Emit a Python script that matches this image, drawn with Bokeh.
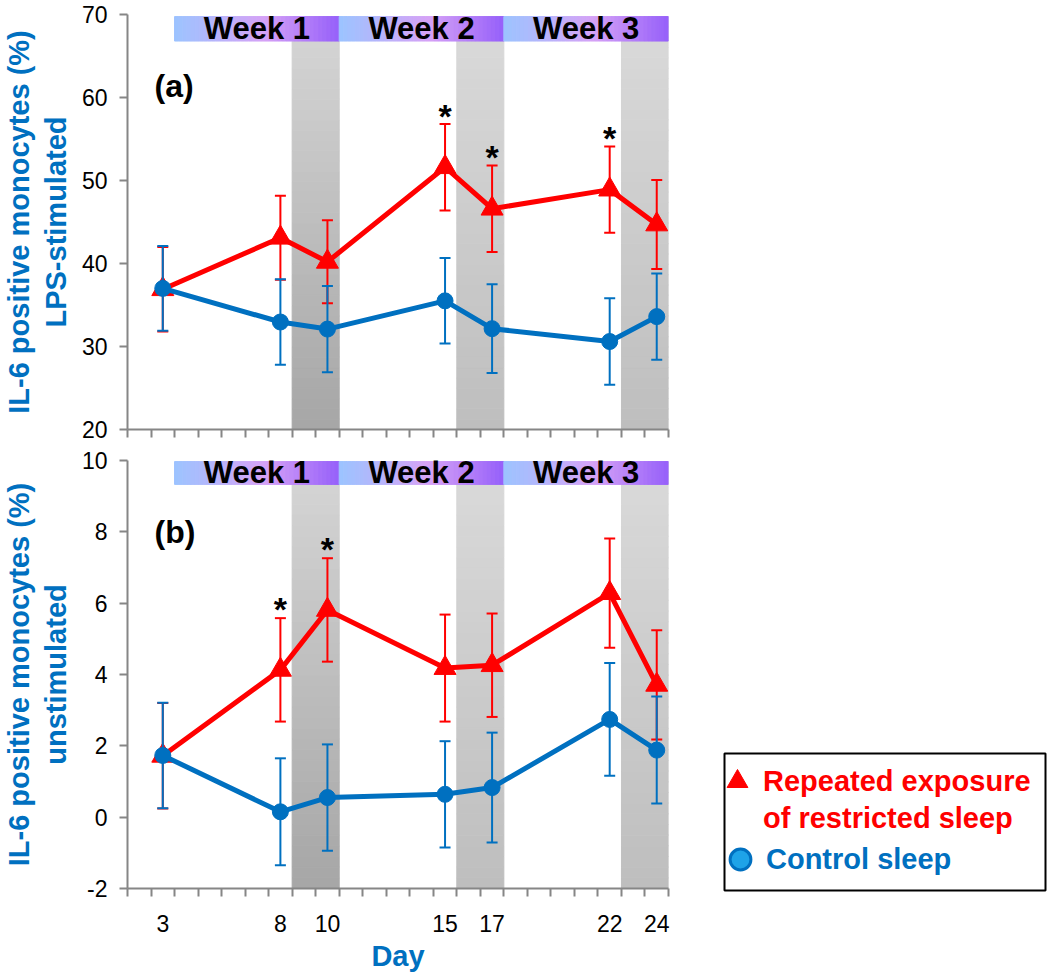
from bokeh.plotting import figure
from bokeh.models import Range1d, FixedTicker, Label, Legend, LegendItem, Spacer
from bokeh.layouts import column, row
from bokeh.embed import file_html
from bokeh.resources import INLINE
from bokeh.core.properties import value

# ---------------- data ----------------
days = [3, 8, 10, 15, 17, 22, 24]
day_labels = ["3", "8", "10", "15", "17", "22", "24"]

restricted_lps = [36.9, 43.1, 40.2, 51.6, 46.6, 48.9, 44.7]
restricted_lps_se = [5.1, 5.05, 5.0, 5.2, 5.2, 5.2, 5.35]
control_lps = [37.0, 32.95, 32.1, 35.5, 32.15, 30.6, 33.6]
control_lps_se = [5.1, 5.15, 5.2, 5.15, 5.35, 5.2, 5.2]

restricted_unstim = [1.72, 4.13, 5.81, 4.18, 4.26, 6.28, 3.71]
restricted_unstim_se = [1.48, 1.45, 1.45, 1.5, 1.45, 1.53, 1.53]
control_unstim = [1.73, 0.15, 0.55, 0.64, 0.83, 2.74, 1.88]
control_unstim_se = [1.48, 1.5, 1.49, 1.49, 1.54, 1.58, 1.5]

sig_days_lps = [15, 17, 22]
sig_days_unstim = [8, 10]

week_labels = ["Week 1", "Week 2", "Week 3"]
week_start = [3.5, 10.5, 17.5]
week_end = [10.5, 17.5, 24.5]
recovery_start = [8.5, 15.5, 22.5]
recovery_end = [10.5, 17.5, 24.5]

lps_ticks = [20, 30, 40, 50, 60, 70]
lps_tick_labels = ["20", "30", "40", "50", "60", "70"]
unstim_ticks = [-2, 0, 2, 4, 6, 8, 10]
unstim_tick_labels = ["-2", "0", "2", "4", "6", "8", "10"]

legend_labels = ["Repeated exposure", "of restricted sleep", "Control sleep"]

# ---------------- style ----------------
FONT = "Liberation Sans"
RED = "#ff0000"
BLUE = "#0070c0"
AXIS_GRAY = "#868686"
BAR_STOPS = [(0.0, (156, 196, 255)), (0.55, (214, 162, 246)), (1.0, (150, 96, 250))]
BAND_FIRST = ((166, 166, 166), (214, 214, 214))   # bottom, top
BAND_OTHER = ((190, 190, 190), (218, 218, 218))
X_MINOR = [d + 0.5 for d in range(1, 25)]
NAN = float("nan")


def to_hex(c):
    return "#%02x%02x%02x" % tuple(int(round(v)) for v in c)


def mix(c0, c1, t):
    return to_hex([a + (b - a) * t for a, b in zip(c0, c1)])


def bar_color(t):
    for (t0, c0), (t1, c1) in zip(BAR_STOPS[:-1], BAR_STOPS[1:]):
        if t <= t1:
            return mix(c0, c1, (t - t0) / (t1 - t0))
    return to_hex(BAR_STOPS[-1][1])


def make_panel(width, height, bt, bb, br, yr, yticks, ytick_labels, ylabel, tag,
               tag_y, red, red_se, blue, blue_se, sig, star_off, bar, show_x):
    p = figure(width=width, height=height, x_range=Range1d(1.5, 24.5),
               y_range=Range1d(*yr), output_backend="svg", toolbar_location=None,
               min_border_left=125, min_border_right=br, min_border_top=bt,
               min_border_bottom=bb)
    p.outline_line_color = None
    p.xgrid.visible = False
    p.ygrid.visible = False

    # recovery (gray) bands with vertical gradient
    nb = 40
    L, R, B, T, C = [], [], [], [], []
    for k, (s, e) in enumerate(zip(recovery_start, recovery_end)):
        cb, ct = BAND_FIRST if k == 0 else BAND_OTHER
        y0, y1 = yr[0], bar[1]
        for i in range(nb):
            L.append(s); R.append(e)
            B.append(y0 + (y1 - y0) * i / nb)
            T.append(y0 + (y1 - y0) * (i + 1) / nb)
            C.append(mix(cb, ct, (i + 0.5) / nb))
    p.quad(left=L, right=R, bottom=B, top=T, fill_color=C, line_color=C, line_width=1)

    # week bars with horizontal gradient
    nw = 40
    L, R, B, T, C = [], [], [], [], []
    for s, e in zip(week_start, week_end):
        for i in range(nw):
            L.append(s + (e - s) * i / nw); R.append(s + (e - s) * (i + 1) / nw)
            B.append(bar[0]); T.append(bar[1])
            C.append(bar_color((i + 0.5) / nw))
    p.quad(left=L, right=R, bottom=B, top=T, fill_color=C, line_color=C, line_width=1)

    for name, s, e in zip(week_labels, week_start, week_end):
        p.add_layout(Label(x=(s + e) / 2, y=(bar[0] + bar[1]) / 2, text=name,
                           text_align="center", text_baseline="middle",
                           text_font=FONT, text_font_style="bold",
                           text_font_size="31px", text_color="black"))

    # series
    for vals, se, color, marker, msize in ((red, red_se, RED, "triangle", 22),
                                           (blue, blue_se, BLUE, "circle", 16)):
        hi = [v + s for v, s in zip(vals, se)]
        lo = [v - s for v, s in zip(vals, se)]
        p.segment(x0=days, y0=lo, x1=days, y1=hi, line_color=color, line_width=2)
        p.scatter(x=days, y=hi, marker="dash", size=11, line_color=color, line_width=2)
        p.scatter(x=days, y=lo, marker="dash", size=11, line_color=color, line_width=2)
        p.line(x=days, y=vals, line_color=color, line_width=5)
        p.scatter(x=days, y=vals, marker=marker, size=msize, fill_color=color,
                  line_color=color)

    # significance stars
    sy = [red[days.index(d)] + red_se[days.index(d)] + star_off for d in sig]
    p.text(x=sig, y=sy, text=["*"] * len(sig), text_font=value(FONT),
           text_font_style="bold", text_font_size="34px", text_align="center",
           text_baseline="middle", text_color="black")

    p.add_layout(Label(x=2.65, y=tag_y, text=tag, text_baseline="middle",
                       text_font=FONT, text_font_style="bold",
                       text_font_size="32px", text_color="black"))

    # axes
    ya = p.yaxis[0]
    ya.ticker = FixedTicker(ticks=yticks)
    ya.major_label_overrides = {t: l for t, l in zip(yticks, ytick_labels)}
    ya.axis_line_color = AXIS_GRAY
    ya.axis_line_width = 2
    ya.major_tick_line_color = AXIS_GRAY
    ya.major_tick_line_width = 2
    ya.major_tick_out = 8
    ya.major_tick_in = 0
    ya.minor_tick_line_color = None
    ya.major_label_text_font = FONT
    ya.major_label_text_font_size = "23px"
    ya.major_label_text_color = "black"
    ya.major_label_standoff = 12
    ya.axis_label = ylabel
    ya.axis_label_text_font = FONT
    ya.axis_label_text_font_style = "bold"
    ya.axis_label_text_font_size = "29px"
    ya.axis_label_text_line_height = 1.15
    ya.axis_label_text_color = BLUE
    ya.axis_label_standoff = 7

    xa = p.xaxis[0]
    xa.axis_line_color = AXIS_GRAY
    xa.axis_line_width = 2
    xa.major_tick_line_color = None
    xa.major_tick_out = 0
    xa.major_tick_in = 0
    xa.minor_tick_line_color = AXIS_GRAY
    xa.minor_tick_line_width = 2
    xa.minor_tick_out = 8
    xa.minor_tick_in = 0
    if show_x:
        xa.ticker = FixedTicker(ticks=days, minor_ticks=X_MINOR)
        xa.major_label_overrides = {d: l for d, l in zip(days, day_labels)}
        xa.major_label_text_font = FONT
        xa.major_label_text_color = "black"
        xa.major_label_text_font_size = "23px"
        xa.major_label_standoff = 18
        xa.axis_label = "Day"
        xa.axis_label_text_font = FONT
        xa.axis_label_text_font_style = "bold"
        xa.axis_label_text_font_size = "29px"
        xa.axis_label_text_color = BLUE
        xa.axis_label_standoff = 5
    else:
        xa.ticker = FixedTicker(ticks=[], minor_ticks=X_MINOR)
        xa.major_label_standoff = 0
    return p


top = make_panel(678, 444, 14, 15, 10, (20, 70), lps_ticks, lps_tick_labels,
                 "IL-6 positive monocytes (%)\nLPS-stimulated", "(a)", 61.4,
                 restricted_lps, restricted_lps_se, control_lps, control_lps_se,
                 sig_days_lps, 1.0, (66.8, 69.75), False)

bottom = make_panel(722, 530, 16, 82, 54, (-2, 10), unstim_ticks, unstim_tick_labels,
                    "IL-6 positive monocytes (%)\nunstimulated", "(b)", 8.0,
                    restricted_unstim, restricted_unstim_se, control_unstim,
                    control_unstim_se, sig_days_unstim, 0.26, (9.33, 9.97), True)

# ---------------- legend ----------------
LW, LH = 325, 141
lf = figure(width=LW, height=LH, x_range=Range1d(0, 1), y_range=Range1d(0, 1),
            output_backend="svg", toolbar_location=None, min_border=2,
            x_axis_type=None, y_axis_type=None)
lf.xgrid.visible = False
lf.ygrid.visible = False
lf.outline_line_color = "black"
lf.outline_line_width = 2
r_red = lf.scatter(x=[NAN], y=[NAN], marker="triangle", size=22, fill_color=RED,
                   line_color=RED)
r_blank = lf.scatter(x=[NAN], y=[NAN], marker="circle", size=1, fill_alpha=0,
                     line_alpha=0)
r_blue = lf.scatter(x=[NAN], y=[NAN], marker="circle", size=21, fill_color="#1ea3e8",
                    line_color=BLUE, line_width=3)

common = dict(spacing=0, padding=0, margin=0, border_line_color=None,
              background_fill_alpha=0, label_text_font=FONT,
              label_text_font_style="bold", label_text_font_size="29px")
leg_1 = Legend(items=[LegendItem(label=legend_labels[0], renderers=[r_red])],
               glyph_width=52, glyph_height=52, label_height=52,
               location=(-13, 83), label_standoff=0, label_text_color=RED, **common)
leg_2 = Legend(items=[LegendItem(label=legend_labels[1], renderers=[r_blank])],
               glyph_width=28, glyph_height=37, label_height=37,
               location=(0, 53), label_standoff=11, label_text_color=RED, **common)
leg_3 = Legend(items=[LegendItem(label=legend_labels[2], renderers=[r_blue])],
               glyph_width=52, glyph_height=52, label_height=52,
               location=(-10, 5), label_standoff=0, label_text_color=BLUE, **common)
lf.add_layout(leg_1)
lf.add_layout(leg_2)
lf.add_layout(leg_3)

layout = column(top, row(bottom, column(Spacer(width=LW, height=307), lf)))

open("out.html", "w").write(file_html(layout, INLINE))
